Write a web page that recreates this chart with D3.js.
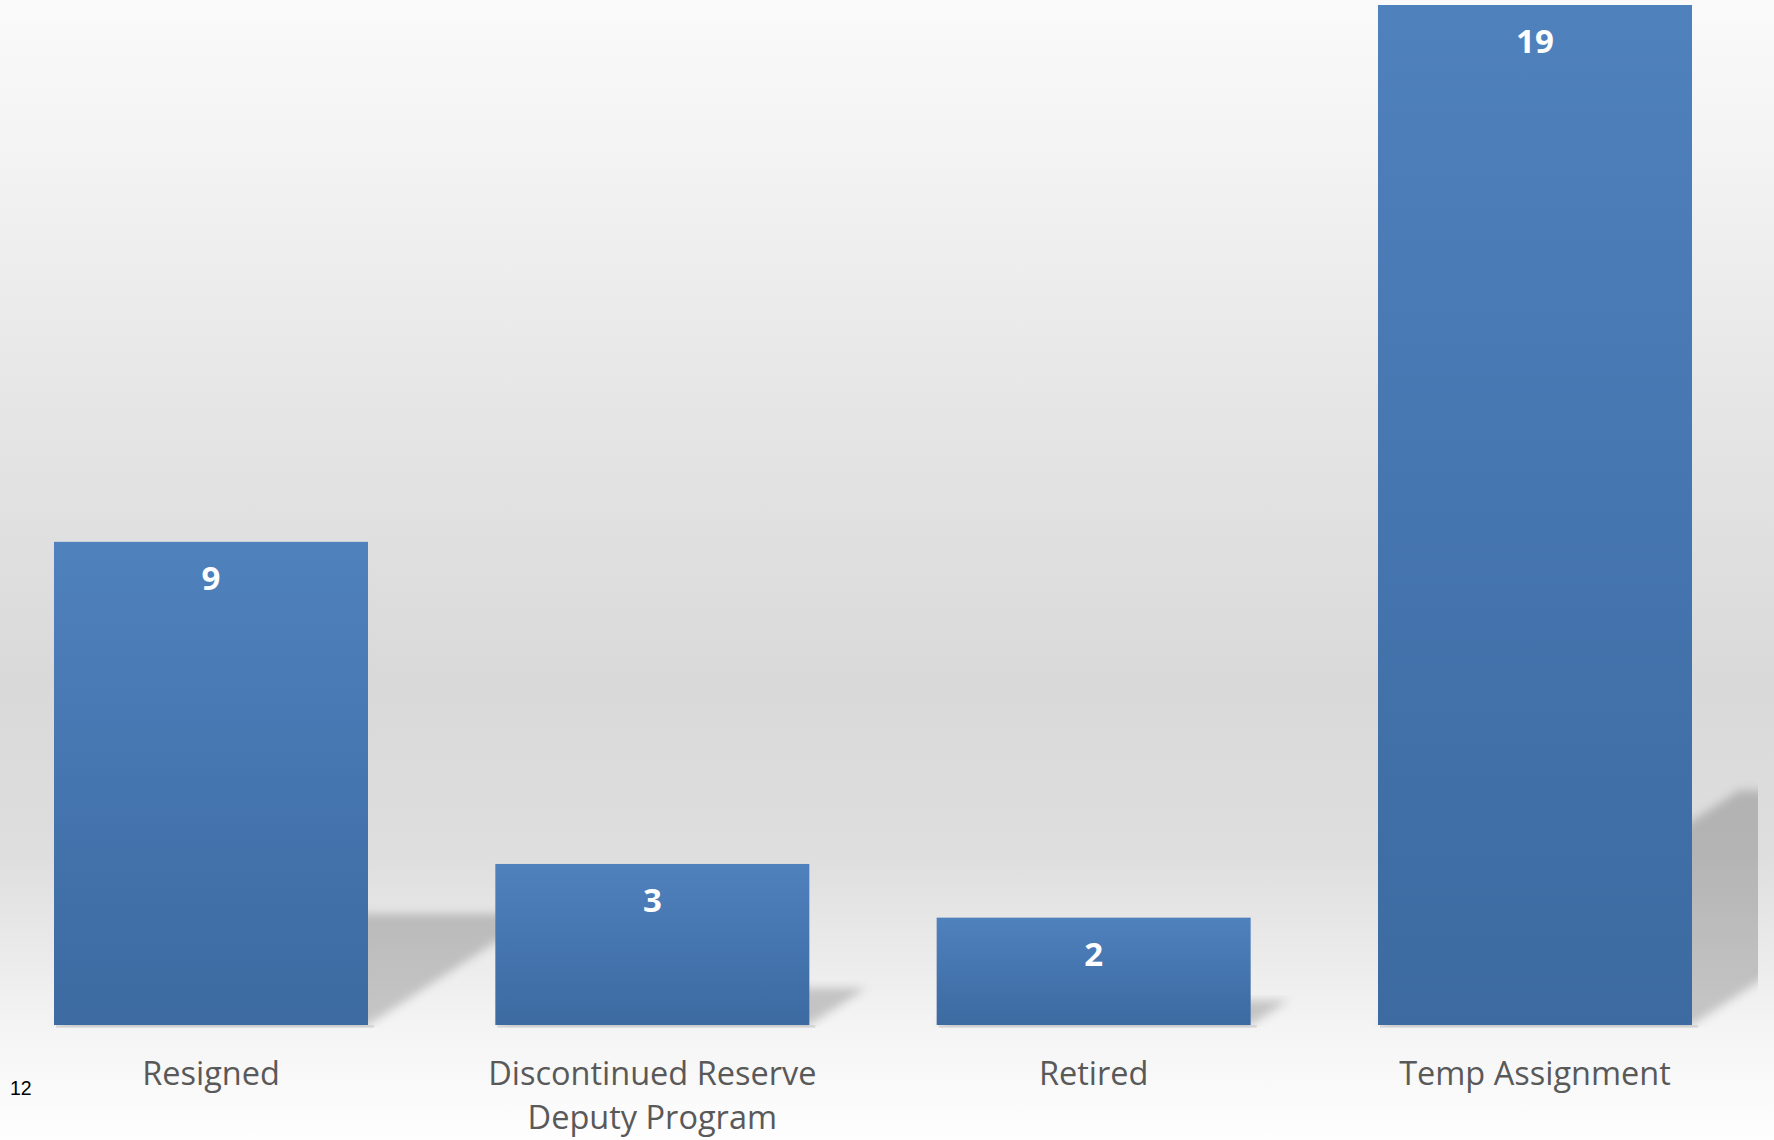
<!DOCTYPE html>
<html>
<head>
<meta charset="utf-8">
<script src="https://cdn.jsdelivr.net/npm/d3@7"></script>
<style>
  html, body { margin: 0; padding: 0; background: #ffffff; }
  svg { display: block; }
</style>
</head>
<body>
<svg id="chart" width="1774" height="1140"></svg>
<script>
// ---- data ----
const categories = ["Resigned", "Discontinued Reserve Deputy Program", "Retired", "Temp Assignment"];
const tickLabels = [["Resigned"], ["Discontinued Reserve", "Deputy Program"], ["Retired"], ["Temp Assignment"]];
const values = [9, 3, 2, 19];
const pageNumber = "12";

// ---- layout ----
const W = 1774, H = 1140;
const baseY = 1025, topY = 5;
const svg = d3.select("#chart");
const defs = svg.append("defs");

// background gradient
const bg = defs.append("linearGradient").attr("id", "bg").attr("x1", 0).attr("y1", 0).attr("x2", 0).attr("y2", 1);
[[0, "#fafafa"], [0.12, "#f4f4f4"], [0.35, "#e6e6e6"], [0.6, "#d9d9d9"], [0.75, "#dedede"], [0.9, "#f4f4f4"], [1, "#fefefe"]]
  .forEach(([o, c]) => bg.append("stop").attr("offset", o).attr("stop-color", c));
svg.append("rect").attr("width", W).attr("height", H).attr("fill", "url(#bg)");

// bar gradient
const bgBar = defs.append("linearGradient").attr("id", "barGrad").attr("x1", 0).attr("y1", 0).attr("x2", 0).attr("y2", 1);
bgBar.append("stop").attr("offset", 0).attr("stop-color", "#4f81bd");
bgBar.append("stop").attr("offset", 1).attr("stop-color", "#3c6aa1");

// blur filter for shadows
defs.append("filter").attr("id", "blur").attr("x", "-20%").attr("y", "-20%").attr("width", "140%").attr("height", "140%")
  .append("feGaussianBlur").attr("stdDeviation", 5);
defs.append("clipPath").attr("id", "plotClip")
  .append("rect").attr("x", 0).attr("y", 0).attr("width", 1758).attr("height", baseY + 2);

// scales
const x = d3.scaleBand().domain(categories).range([54, 1692]).paddingInner(0.2885).paddingOuter(0);
const y = d3.scaleLinear().domain([0, 19]).range([baseY, topY]);
const bw = x.bandwidth();

// perspective shadows
const shadowG = svg.append("g").attr("clip-path", "url(#plotClip)");
shadowG.selectAll("path").data(values).join("path")
  .attr("d", (v, i) => {
    const x0 = x(categories[i]), x1 = x0 + bw, y0 = y(0);
    const h = 0.23 * (y(0) - y(v)), d = h / 0.65;
    return `M${x0},${y0}L${x1},${y0}L${x1 + d},${y0 - h}L${x0 + d},${y0 - h}Z`;
  })
  .attr("fill", "#000").attr("fill-opacity", 0.19)
  .attr("filter", "url(#blur)");

// faint bottom shadow line
svg.append("g").selectAll("rect").data(values).join("rect")
  .attr("x", (v, i) => x(categories[i]) + 2)
  .attr("y", baseY)
  .attr("width", bw + 4)
  .attr("height", 3)
  .attr("fill", "#000").attr("fill-opacity", 0.08);

// bars
svg.append("g").selectAll("rect").data(values).join("rect")
  .attr("x", (v, i) => x(categories[i]))
  .attr("y", v => y(v))
  .attr("width", bw)
  .attr("height", v => y(0) - y(v))
  .attr("fill", "url(#barGrad)");

// value labels
svg.append("g").selectAll("text").data(values).join("text")
  .attr("x", (v, i) => x(categories[i]) + bw / 2)
  .attr("y", v => y(v) + 48)
  .attr("text-anchor", "middle")
  .attr("font-family", "'Open Sans', sans-serif")
  .attr("font-weight", 700)
  .attr("font-size", 33)
  .attr("fill", "#ffffff")
  .text(v => v);

// category axis labels
const labG = svg.append("g");
tickLabels.forEach((lines, i) => {
  const t = labG.append("text")
    .attr("x", x(categories[i]) + bw / 2)
    .attr("y", 1085)
    .attr("text-anchor", "middle")
    .attr("font-family", "'Open Sans', sans-serif")
    .attr("font-size", 32.5)
    .attr("fill", "#595959");
  lines.forEach((ln, j) => {
    t.append("tspan").attr("x", x(categories[i]) + bw / 2).attr("dy", j === 0 ? 0 : 44).text(ln);
  });
});

// page number
svg.append("text").attr("x", 10).attr("y", 1095)
  .attr("font-family", "'Liberation Sans', Arial, sans-serif")
  .attr("font-size", 19.5).attr("fill", "#000")
  .text(pageNumber);
</script>
</body>
</html>
